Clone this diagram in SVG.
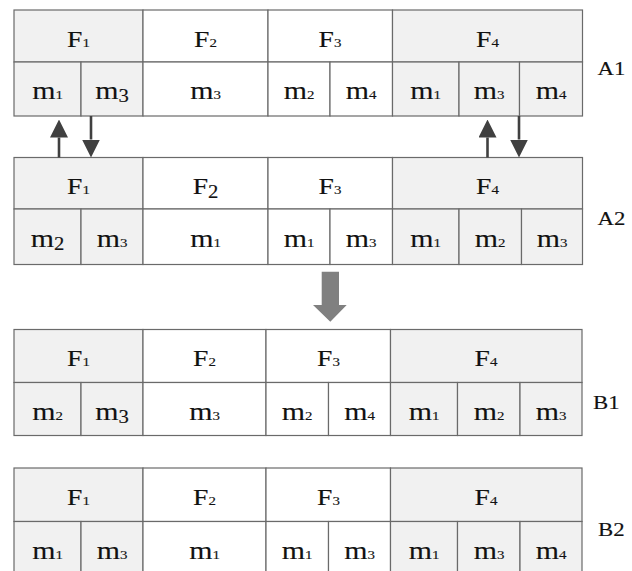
<svg xmlns="http://www.w3.org/2000/svg" width="632" height="571" viewBox="0 0 632 571">
<style>
.g{fill:#f1f1f1;stroke:#6a6a6a;stroke-width:1.2}
.w{fill:#ffffff;stroke:#6a6a6a;stroke-width:1.2}
text{font-family:"Liberation Serif","Times New Roman",serif;fill:#111111;stroke:#111111;stroke-width:0.15;text-anchor:middle}
.f{font-size:24px}
.m{font-size:26px}
.s{font-size:13px}
.l{font-size:18px}
.lab{font-size:19px;text-anchor:start}
.ar{stroke:#404040;stroke-width:2.6;fill:none}
</style>
<defs>
<marker id="ah" viewBox="0 0 18 18" refX="0" refY="9" markerWidth="18" markerHeight="18" orient="auto" markerUnits="userSpaceOnUse"><path d="M0,0 L18,9 L0,18 z" fill="#404040"/></marker>
</defs>

<g id="A1">
<rect class="g" x="14" y="10" width="129" height="52"/>
<rect class="w" x="143" y="10" width="125" height="52"/>
<rect class="w" x="268" y="10" width="124.5" height="52"/>
<rect class="g" x="392.5" y="10" width="190" height="52"/>
<rect class="g" x="14" y="62" width="67" height="54"/>
<rect class="g" x="81" y="62" width="62" height="54"/>
<rect class="w" x="143" y="62" width="125" height="54"/>
<rect class="w" x="268" y="62" width="62" height="54"/>
<rect class="w" x="330" y="62" width="62.5" height="54"/>
<rect class="g" x="392.5" y="62" width="66.5" height="54"/>
<rect class="g" x="459" y="62" width="60.5" height="54"/>
<rect class="g" x="519.5" y="62" width="63" height="54"/>
<text class="f" transform="translate(78.5,46.5) scale(1.15,1)">F<tspan class="s">1</tspan></text>
<text class="f" transform="translate(205.5,46.5) scale(1.15,1)">F<tspan class="s">2</tspan></text>
<text class="f" transform="translate(330,46.5) scale(1.15,1)">F<tspan class="s">3</tspan></text>
<text class="f" transform="translate(487.5,46.5) scale(1.15,1)">F<tspan class="s">4</tspan></text>
<text class="m" transform="translate(47.5,99) scale(1.15,1)">m<tspan class="s">1</tspan></text>
<text class="m" transform="translate(112,99) scale(1.15,1)">m<tspan class="l" dy="3">3</tspan></text>
<text class="m" transform="translate(205.5,99) scale(1.15,1)">m<tspan class="s">3</tspan></text>
<text class="m" transform="translate(299,99) scale(1.15,1)">m<tspan class="s">2</tspan></text>
<text class="m" transform="translate(361,99) scale(1.15,1)">m<tspan class="s">4</tspan></text>
<text class="m" transform="translate(425.5,99) scale(1.15,1)">m<tspan class="s">1</tspan></text>
<text class="m" transform="translate(489,99) scale(1.15,1)">m<tspan class="s">3</tspan></text>
<text class="m" transform="translate(551,99) scale(1.15,1)">m<tspan class="s">4</tspan></text>
<text class="lab" transform="translate(597.5,75) scale(1.2,1)">A1</text>
</g>

<g id="A2">
<rect class="g" x="14" y="157.5" width="129" height="51.5"/>
<rect class="w" x="143" y="157.5" width="125" height="51.5"/>
<rect class="w" x="268" y="157.5" width="124.5" height="51.5"/>
<rect class="g" x="392.5" y="157.5" width="190" height="51.5"/>
<rect class="g" x="14" y="209" width="67" height="55.5"/>
<rect class="g" x="81" y="209" width="62" height="55.5"/>
<rect class="w" x="143" y="209" width="125" height="55.5"/>
<rect class="w" x="268" y="209" width="62" height="55.5"/>
<rect class="w" x="330" y="209" width="62.5" height="55.5"/>
<rect class="g" x="392.5" y="209" width="66.5" height="55.5"/>
<rect class="g" x="459" y="209" width="62.5" height="55.5"/>
<rect class="g" x="521.5" y="209" width="61" height="55.5"/>
<text class="f" transform="translate(78.5,193.5) scale(1.15,1)">F<tspan class="s">1</tspan></text>
<text class="f" transform="translate(205.5,193.5) scale(1.15,1)">F<tspan class="l" dy="4">2</tspan></text>
<text class="f" transform="translate(330,193.5) scale(1.15,1)">F<tspan class="s">3</tspan></text>
<text class="f" transform="translate(487.5,193.5) scale(1.15,1)">F<tspan class="s">4</tspan></text>
<text class="m" transform="translate(47.5,246.5) scale(1.15,1)">m<tspan class="l" dy="3">2</tspan></text>
<text class="m" transform="translate(112,246.5) scale(1.15,1)">m<tspan class="s">3</tspan></text>
<text class="m" transform="translate(205.5,246.5) scale(1.15,1)">m<tspan class="s">1</tspan></text>
<text class="m" transform="translate(299,246.5) scale(1.15,1)">m<tspan class="s">1</tspan></text>
<text class="m" transform="translate(361,246.5) scale(1.15,1)">m<tspan class="s">3</tspan></text>
<text class="m" transform="translate(425.5,246.5) scale(1.15,1)">m<tspan class="s">1</tspan></text>
<text class="m" transform="translate(490,246.5) scale(1.15,1)">m<tspan class="s">2</tspan></text>
<text class="m" transform="translate(552,246.5) scale(1.15,1)">m<tspan class="s">3</tspan></text>
<text class="lab" transform="translate(597.5,225) scale(1.2,1)">A2</text>
</g>

<g id="B1">
<rect class="g" x="14" y="329.5" width="129" height="53"/>
<rect class="w" x="143" y="329.5" width="123" height="53"/>
<rect class="w" x="266" y="329.5" width="124.5" height="53"/>
<rect class="g" x="390.5" y="329.5" width="191.5" height="53"/>
<rect class="g" x="14" y="382.5" width="67" height="53"/>
<rect class="g" x="81" y="382.5" width="62" height="53"/>
<rect class="w" x="143" y="382.5" width="123" height="53"/>
<rect class="w" x="266" y="382.5" width="62.5" height="53"/>
<rect class="w" x="328.5" y="382.5" width="62" height="53"/>
<rect class="g" x="390.5" y="382.5" width="67" height="53"/>
<rect class="g" x="457.5" y="382.5" width="62.5" height="53"/>
<rect class="g" x="520" y="382.5" width="62" height="53"/>
<text class="f" transform="translate(78.5,366) scale(1.15,1)">F<tspan class="s">1</tspan></text>
<text class="f" transform="translate(204.5,366) scale(1.15,1)">F<tspan class="s">2</tspan></text>
<text class="f" transform="translate(328.5,366) scale(1.15,1)">F<tspan class="s">3</tspan></text>
<text class="f" transform="translate(486,366) scale(1.15,1)">F<tspan class="s">4</tspan></text>
<text class="m" transform="translate(47.5,419.5) scale(1.15,1)">m<tspan class="s">2</tspan></text>
<text class="m" transform="translate(112,419.5) scale(1.15,1)">m<tspan class="l" dy="3">3</tspan></text>
<text class="m" transform="translate(204.5,419.5) scale(1.15,1)">m<tspan class="s">3</tspan></text>
<text class="m" transform="translate(297,419.5) scale(1.15,1)">m<tspan class="s">2</tspan></text>
<text class="m" transform="translate(359.5,419.5) scale(1.15,1)">m<tspan class="s">4</tspan></text>
<text class="m" transform="translate(424,419.5) scale(1.15,1)">m<tspan class="s">1</tspan></text>
<text class="m" transform="translate(489,419.5) scale(1.15,1)">m<tspan class="s">2</tspan></text>
<text class="m" transform="translate(551,419.5) scale(1.15,1)">m<tspan class="s">3</tspan></text>
<text class="lab" transform="translate(593,409) scale(1.2,1)">B1</text>
</g>

<g id="B2">
<rect class="g" x="14" y="468" width="129" height="53.5"/>
<rect class="w" x="143" y="468" width="123" height="53.5"/>
<rect class="w" x="266" y="468" width="124.5" height="53.5"/>
<rect class="g" x="390.5" y="468" width="191.5" height="53.5"/>
<rect class="g" x="14" y="521.5" width="67" height="54"/>
<rect class="g" x="81" y="521.5" width="62" height="54"/>
<rect class="w" x="143" y="521.5" width="123" height="54"/>
<rect class="w" x="266" y="521.5" width="62.5" height="54"/>
<rect class="w" x="328.5" y="521.5" width="62" height="54"/>
<rect class="g" x="390.5" y="521.5" width="67" height="54"/>
<rect class="g" x="457.5" y="521.5" width="62.5" height="54"/>
<rect class="g" x="520" y="521.5" width="62" height="54"/>
<text class="f" transform="translate(78.5,504.5) scale(1.15,1)">F<tspan class="s">1</tspan></text>
<text class="f" transform="translate(204.5,504.5) scale(1.15,1)">F<tspan class="s">2</tspan></text>
<text class="f" transform="translate(328.5,504.5) scale(1.15,1)">F<tspan class="s">3</tspan></text>
<text class="f" transform="translate(486,504.5) scale(1.15,1)">F<tspan class="s">4</tspan></text>
<text class="m" transform="translate(47.5,558.5) scale(1.15,1)">m<tspan class="s">1</tspan></text>
<text class="m" transform="translate(112,558.5) scale(1.15,1)">m<tspan class="s">3</tspan></text>
<text class="m" transform="translate(204.5,558.5) scale(1.15,1)">m<tspan class="s">1</tspan></text>
<text class="m" transform="translate(297,558.5) scale(1.15,1)">m<tspan class="s">1</tspan></text>
<text class="m" transform="translate(359.5,558.5) scale(1.15,1)">m<tspan class="s">3</tspan></text>
<text class="m" transform="translate(424,558.5) scale(1.15,1)">m<tspan class="s">1</tspan></text>
<text class="m" transform="translate(489,558.5) scale(1.15,1)">m<tspan class="s">3</tspan></text>
<text class="m" transform="translate(551,558.5) scale(1.15,1)">m<tspan class="s">4</tspan></text>
<text class="lab" transform="translate(598,535.5) scale(1.2,1)">B2</text>
</g>

<g id="connectors">
<line class="ar" x1="59" y1="157.5" x2="59" y2="137.5" marker-end="url(#ah)"/>
<line class="ar" x1="91" y1="116" x2="91" y2="139.5" marker-end="url(#ah)"/>
<line class="ar" x1="487.5" y1="157.5" x2="487.5" y2="137.5" marker-end="url(#ah)"/>
<line class="ar" x1="519" y1="116" x2="519" y2="139.5" marker-end="url(#ah)"/>
<polygon points="321.7,271.7 339,271.7 339,305 346.7,305 330.3,321.7 313,305 321.7,305" fill="#808080"/>
</g>
</svg>
